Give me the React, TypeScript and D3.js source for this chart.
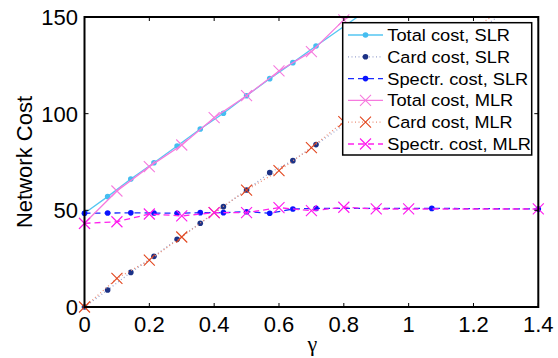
import React from "react";
import * as d3 from "d3";

const slrX = [0, 1 / 14, 2 / 14, 3 / 14, 4 / 14, 5 / 14, 6 / 14, 7 / 14, 8 / 14, 9 / 14, 10 / 14, 15 / 14, 1.4];
const totalSLR = [48.5, 57.1, 66.2, 74.6, 83.3, 92.1, 100.2, 109.3, 118.1, 126.4, 135.0, 177, 216];
const cardSLR = [0, 8.8, 17.9, 26.2, 35.0, 43.3, 51.9, 60.5, 69.5, 75.7, 84.0, 126, 165];
const spectrSLR = [48.5, 48.6, 48.7, 48.6, 48.5, 48.8, 48.8, 49.3, 48.5, 50.7, 51.0, 51.0, 50.7];

const mlrX = [0, 0.1, 0.2, 0.3, 0.4, 0.5, 0.6, 0.7, 0.8, 0.9, 1.0, 1.4];
const totalMLR = [43.3, 60.0, 72.6, 83.8, 97.9, 109.3, 122.1, 132.1, 148.5, 158, 170, 219];
const cardMLR = [0, 14.8, 24.3, 36.2, 48.8, 60.5, 70.5, 82.4, 95.9, 107, 119, 168];
const spectrMLR = [43.3, 44.1, 48.1, 47.1, 48.8, 48.8, 51.4, 49.8, 51.6, 50.7, 50.7, 50.7];

const xTicks = [0, 0.2, 0.4, 0.6, 0.8, 1, 1.2, 1.4];
const yTicks = [0, 50, 100, 150];
const legendLabels = [
  "Total cost, SLR",
  "Card cost, SLR",
  "Spectr. cost, SLR",
  "Total cost, MLR",
  "Card cost, MLR",
  "Spectr. cost, MLR",
];

type Series = {
  xs: number[];
  ys: number[];
  line: string;
  marker: string;
  dash: string | null;
  shape: "dot" | "x";
  r: number;
  textLen: number;
};

const series: Series[] = [
  { xs: slrX, ys: totalSLR, line: "#55c6f2", marker: "#45bdf0", dash: null, shape: "dot", r: 2.8, textLen: 122.7 },
  { xs: slrX, ys: cardSLR, line: "#9aa4cf", marker: "#1c3286", dash: "1,2.5", shape: "dot", r: 2.8, textLen: 122.7 },
  { xs: slrX, ys: spectrSLR, line: "#1a2cff", marker: "#0a14ff", dash: "6,4", shape: "dot", r: 2.8, textLen: 141 },
  { xs: mlrX, ys: totalMLR, line: "#f67ade", marker: "#f67ade", dash: null, shape: "x", r: 5.5, textLen: 126 },
  { xs: mlrX, ys: cardMLR, line: "#ec8f78", marker: "#e2461e", dash: "1,2.5", shape: "x", r: 5.5, textLen: 125.3 },
  { xs: mlrX, ys: spectrMLR, line: "#ff22ee", marker: "#ff18ee", dash: "6,4", shape: "x", r: 5.5, textLen: 143.7 },
];

const W = 558;
const H = 358;
const L = 84.5;
const R = 538.3;
const T = 17;
const B = 307;

function Marker({ shape, cx, cy, r, color }: { shape: string; cx: number; cy: number; r: number; color: string }) {
  if (shape === "dot") return <circle cx={cx} cy={cy} r={r} fill={color} />;
  return (
    <path
      d={`M${cx - r},${cy - r}L${cx + r},${cy + r}M${cx - r},${cy + r}L${cx + r},${cy - r}`}
      stroke={color}
      strokeWidth={1.1}
      fill="none"
    />
  );
}

export default function App() {
  const x = d3.scaleLinear().domain([0, 1.4]).range([L, R]);
  const y = d3.scaleLinear().domain([0, 150]).range([B, T]);
  const font = "'Liberation Sans', Arial, Helvetica, sans-serif";

  const lg = { x0: 342.7, y0: 22.7, x1: 531.7, y1: 155 };
  const rowY = (i: number) => 35 + i * 21.8;

  return (
    <svg width={W} height={H} style={{ position: "absolute", left: 0, top: 0 }} fontFamily={font}>
      <defs>
        <clipPath id="plotclip">
          <rect x={L} y={T} width={R - L} height={B - T} />
        </clipPath>
      </defs>
      <rect x={0} y={0} width={W} height={H} fill="#fff" />

      {series.map((s, i) => {
        const pts = s.xs.map((xv, j) => [xv, s.ys[j]] as [number, number]);
        const gen = d3
          .line<[number, number]>()
          .x((d) => x(d[0]))
          .y((d) => y(d[1]));
        return (
          <g key={i}>
            <path
              d={gen(pts) || ""}
              fill="none"
              stroke={s.line}
              strokeWidth={1.3}
              strokeDasharray={s.dash || undefined}
              clipPath="url(#plotclip)"
            />
            {pts
              .filter((p) => p[1] <= 150 && p[1] >= 0)
              .map((p, j) => (
                <Marker key={j} shape={s.shape} cx={x(p[0])} cy={y(p[1])} r={s.r} color={s.marker} />
              ))}
          </g>
        );
      })}

      {/* axes box */}
      <rect x={L} y={T} width={R - L} height={B - T} fill="none" stroke="#000" strokeWidth={2} />
      {xTicks.map((t, i) => (
        <g key={"xt" + i}>
          <line x1={x(t)} x2={x(t)} y1={B} y2={B - 4} stroke="#000" strokeWidth={1} />
          <line x1={x(t)} x2={x(t)} y1={T} y2={T + 4} stroke="#000" strokeWidth={1} />
          <text x={x(t)} y={332} textAnchor="middle" fontSize={22} fill="#000">
            {String(t)}
          </text>
        </g>
      ))}
      {yTicks.map((t, i) => (
        <g key={"yt" + i}>
          <line x1={L} x2={L + 4} y1={y(t)} y2={y(t)} stroke="#000" strokeWidth={1} />
          <line x1={R} x2={R - 4} y1={y(t)} y2={y(t)} stroke="#000" strokeWidth={1} />
          <text x={78} y={y(t) + 8} textAnchor="end" fontSize={22} fill="#000">
            {String(t)}
          </text>
        </g>
      ))}

      <text
        x={(L + R) / 2 + 1}
        y={351}
        textAnchor="middle"
        fontSize={22}
        fill="#000"
        fontFamily="'Liberation Serif', 'DejaVu Serif', serif"
      >
        γ
      </text>
      <text
        transform={`translate(32,${(T + B) / 2}) rotate(-90)`}
        textAnchor="middle"
        fontSize={22}
        fill="#000"
      >
        Network Cost
      </text>

      {/* legend */}
      <rect x={lg.x0} y={lg.y0} width={lg.x1 - lg.x0} height={lg.y1 - lg.y0} fill="#fff" stroke="#000" strokeWidth={1.5} />
      {series.map((s, i) => (
        <g key={"lg" + i}>
          <line
            x1={348}
            x2={383}
            y1={rowY(i)}
            y2={rowY(i)}
            stroke={s.line}
            strokeWidth={1.3}
            strokeDasharray={s.dash || undefined}
          />
          <Marker shape={s.shape} cx={365.5} cy={rowY(i)} r={s.r} color={s.marker} />
          <text
            x={387.3}
            y={rowY(i) + 6}
            fontSize={16.3}
            fill="#000"
            textLength={s.textLen}
            lengthAdjust="spacingAndGlyphs"
          >
            {legendLabels[i]}
          </text>
        </g>
      ))}
    </svg>
  );
}
